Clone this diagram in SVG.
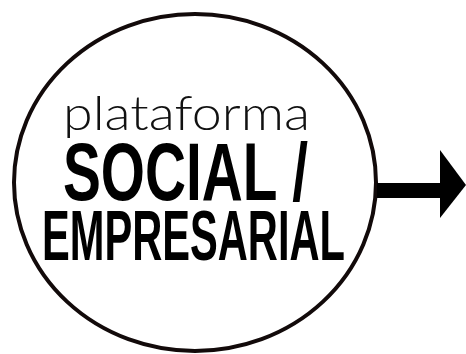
<svg xmlns="http://www.w3.org/2000/svg" width="466" height="354" viewBox="0 0 466 354">
<style>
.big{font-family:"Liberation Sans Narrow","Liberation Sans",sans-serif;font-weight:bold;fill:#000}
.hand{font-family:Lato,"DejaVu Sans",sans-serif;font-weight:300;fill:#111}
</style>
<rect width="466" height="354" fill="#fff"/>
<g id="node-plataforma">
<ellipse cx="195" cy="182.5" rx="181" ry="168.5" fill="#fff" stroke="#120a0a" stroke-width="4"/>
<text class="hand" x="63" y="130" font-size="48" textLength="247" lengthAdjust="spacingAndGlyphs">plataforma</text>
<text class="big" x="63" y="200" font-size="81" textLength="245" lengthAdjust="spacingAndGlyphs">SOCIAL /</text>
<text class="big" x="42" y="260" font-size="70" textLength="303" lengthAdjust="spacingAndGlyphs">EMPRESARIAL</text>
</g>
<g id="connectors">
<rect x="377" y="183" width="64" height="15" fill="#000"/>
<polygon points="440,150 466,185 440,218" fill="#000"/>
</g>
</svg>
